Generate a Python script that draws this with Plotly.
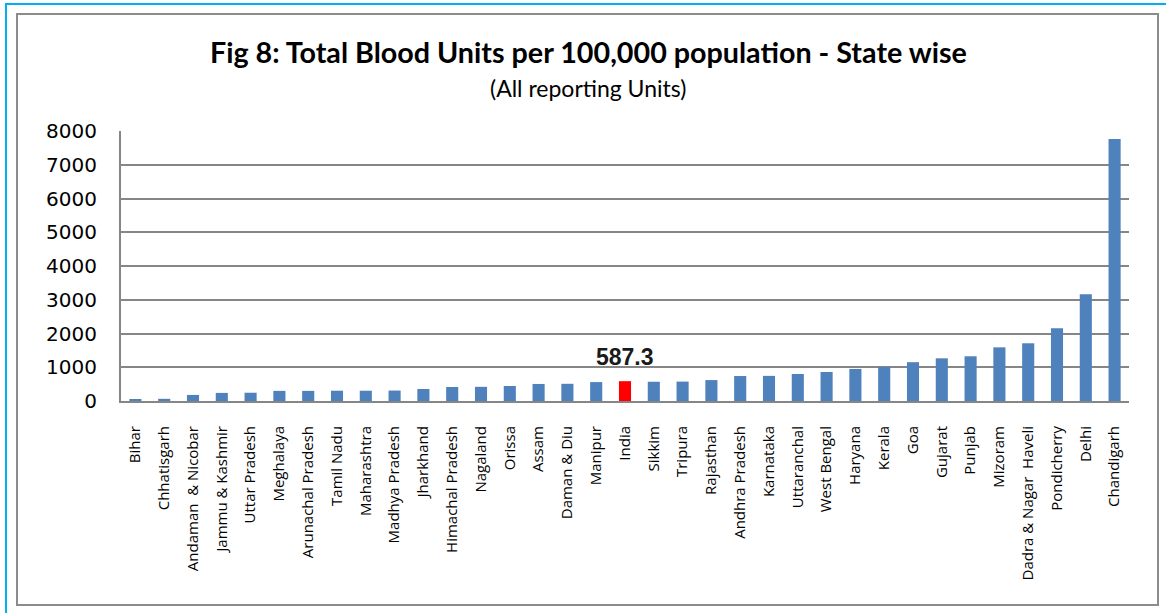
import plotly.graph_objects as go

states = ["Bihar", "Chhatisgarh", "Andaman  & Nicobar", "Jammu & Kashmir", "Uttar Pradesh",
          "Meghalaya", "Arunachal Pradesh", "Tamil Nadu", "Maharashtra", "Madhya Pradesh",
          "Jharkhand", "Himachal Pradesh", "Nagaland", "Orissa", "Assam", "Daman & Diu",
          "Manipur", "India", "Sikkim", "Tripura", "Rajasthan", "Andhra Pradesh", "Karnataka",
          "Uttaranchal", "West Bengal", "Haryana", "Kerala", "Goa", "Gujarat", "Punjab",
          "Mizoram", "Dadra & Nagar  Haveli", "Pondicherry", "Delhi", "Chandigarh"]
units = [60, 65, 180, 240, 245, 300, 300, 305, 305, 310, 355, 415, 420, 445, 505, 510,
         560, 587.3, 570, 575, 620, 740, 745, 800, 860, 950, 1010, 1150, 1265, 1325,
         1590, 1710, 2155, 3165, 7760]
highlight = "India"
highlight_label = "587.3"
y_ticks = [0, 1000, 2000, 3000, 4000, 5000, 6000, 7000, 8000]

W, H = 1166, 613
L, R, T, B = 121, 1129, 131, 401

def px(x):
    return (x - L) / (R - L)

def py(y):
    return (B - y) / (B - T)

colors = ["#FF0000" if s == highlight else "#4F81BD" for s in states]

fig = go.Figure(go.Bar(x=states, y=units, marker=dict(color=colors, line=dict(width=0)),
                       hoverinfo="x+y"))

fig.update_layout(
    width=W, height=H, autosize=False,
    margin=dict(l=L, r=W - R, t=T, b=H - B, pad=0),
    paper_bgcolor="white", plot_bgcolor="white",
    bargap=0.58, showlegend=False,
    font=dict(family="Liberation Sans, Arial", color="black"),
)

fig.update_xaxes(
    type="category", tickangle=-90,
    tickfont=dict(family="Open Sans", size=15, color="black"),
    showgrid=False, showline=True, linecolor="#868686", linewidth=2,
    ticks="", ticklabelstandoff=17,
)
fig.update_yaxes(
    range=[0, 8000], tickvals=y_ticks, ticktext=[str(v) for v in y_ticks],
    tickfont=dict(family="DejaVu Sans", size=20, color="black"),
    showgrid=True, gridcolor="#868686", gridwidth=2,
    showline=True, linecolor="#868686", linewidth=2,
    ticks="", ticklabelstandoff=18, zeroline=False,
)

# titles
fig.add_annotation(text="<b>Fig 8: Total Blood Units per 100,000 population - State wise</b>",
                   xref="paper", yref="paper", x=px(588), y=py(52), showarrow=False,
                   xanchor="center", yanchor="middle",
                   font=dict(family="Lato", size=28.7, color="black"))
fig.add_annotation(text="(All reporting Units)",
                   xref="paper", yref="paper", x=px(588), y=py(88), showarrow=False,
                   xanchor="center", yanchor="middle",
                   font=dict(family="Lato", size=23, color="black"))

# highlight label
fig.add_annotation(text="<b>" + highlight_label + "</b>", x=highlight,
                   y=units[states.index(highlight)], xref="x", yref="y",
                   showarrow=False, yanchor="middle", yshift=24,
                   font=dict(family="Liberation Sans, Arial", size=23, color="#1a1a1a"))

# frames
fig.add_shape(type="rect", xref="paper", yref="paper",
              x0=px(17), x1=px(1158), y0=py(605), y1=py(14),
              line=dict(color="#8C8C8C", width=2), layer="below")
fig.add_shape(type="line", xref="paper", yref="paper",
              x0=px(6), x1=px(1166), y0=py(4), y1=py(4),
              line=dict(color="#00B0F0", width=2))
fig.add_shape(type="line", xref="paper", yref="paper",
              x0=px(6), x1=px(6), y0=py(3), y1=py(613),
              line=dict(color="#00B0F0", width=2))

fig.write_html("out.html", config={"displayModeBar": False},
               post_script="document.body.style.margin='0';")
